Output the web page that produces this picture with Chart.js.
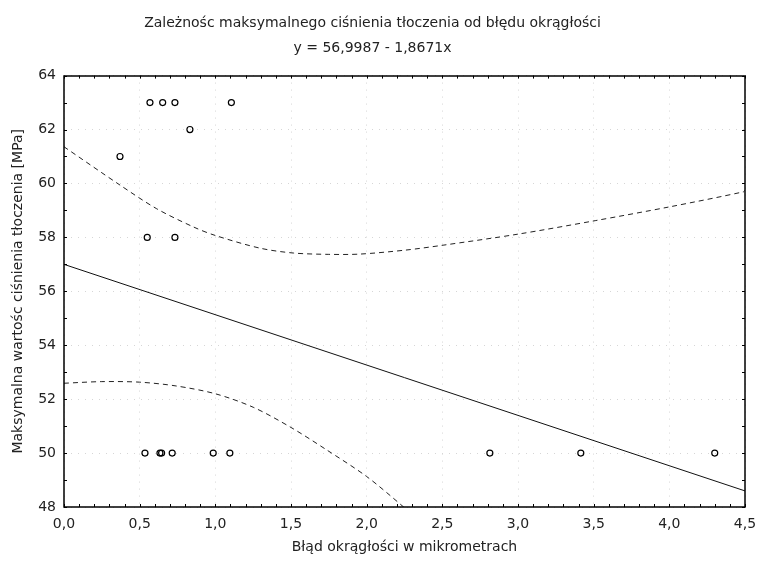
<!DOCTYPE html>
<html lang="pl">
<head>
  <meta charset="UTF-8">
  <title>Zależnośc maksymalnego ciśnienia tłoczenia od błędu okrągłości</title>
  <script src="https://cdn.jsdelivr.net/npm/chart.js"></script>
  <style>
    body { margin: 0; background: #fff; }
    #wrap { width: 759px; height: 566px; }
  </style>
</head>
<body>
  <div id="wrap"><canvas id="chart"></canvas></div>

  <script>
    // measured points
    const errX = [0.568, 0.652, 0.733, 1.106, 0.832, 0.37, 0.55, 0.733,
                  0.535, 0.634, 0.645, 0.715, 0.986, 1.096, 2.814, 3.415, 4.30];
    const pressY = [63, 63, 63, 63, 62, 61, 58, 58,
                    50, 50, 50, 50, 50, 50, 50, 50, 50];

    // fitted line y = 56,9987 - 1,8671x (ends of the plot)
    const fitX = [0, 4.5];
    const fitY = [56.9987, 48.5968];

    // confidence bands
    const upperX = [0, 0.37, 0.61, 0.854, 1.0, 1.295, 1.515, 1.75, 1.955, 2.26, 2.505, 3.0, 3.51, 4.0, 4.49, 4.5];
    const upperY = [61.36, 59.94, 59.07, 58.39, 58.07, 57.6, 57.42, 57.37, 57.38, 57.53, 57.71, 58.12, 58.62, 59.13, 59.69, 59.75];
    const lowerX = [0, 0.25, 0.5, 0.74, 1.0, 1.25, 1.5, 1.735, 2.0, 2.24, 2.3];
    const lowerY = [52.59, 52.65, 52.63, 52.49, 52.2, 51.7, 50.95, 50.12, 49.13, 48.02, 47.7];

    const xTickLabels = ['0,0', '0,5', '1,0', '1,5', '2,0', '2,5', '3,0', '3,5', '4,0', '4,5'];
    const yTickLabels = ['48', '50', '52', '54', '56', '58', '60', '62', '64'];

    const FONT = '"DejaVu Sans", sans-serif';
    const toXY = (xs, ys) => xs.map((x, i) => ({ x: x, y: ys[i] }));

    // frame and small inward ticks
    const framePlugin = {
      id: 'frame',
      afterDraw(chart) {
        const ctx = chart.ctx;
        const a = chart.chartArea;
        const xs = chart.scales.x, ys = chart.scales.y;
        ctx.save();
        ctx.strokeStyle = '#000';
        ctx.lineWidth = 1;
        ctx.beginPath();
        for (let i = 0; i <= 45; i++) {
          const px = Math.round(xs.getPixelForValue(i / 10)) + 0.5;
          ctx.moveTo(px, a.bottom); ctx.lineTo(px, a.bottom - 3);
          ctx.moveTo(px, a.top); ctx.lineTo(px, a.top + 3);
        }
        for (let v = 48; v <= 64; v++) {
          const py = Math.round(ys.getPixelForValue(v)) + 0.5;
          ctx.moveTo(a.left, py); ctx.lineTo(a.left + 3, py);
          ctx.moveTo(a.right, py); ctx.lineTo(a.right - 3, py);
        }
        ctx.stroke();
        ctx.lineWidth = 1.5;
        ctx.strokeRect(Math.round(a.left), Math.round(a.top), Math.round(a.right - a.left), Math.round(a.bottom - a.top));
        ctx.restore();
      }
    };

    const ctx = document.getElementById('chart').getContext('2d');
    new Chart(ctx, {
      type: 'scatter',
      data: {
        datasets: [
          {
            label: 'pomiary',
            data: toXY(errX, pressY),
            pointStyle: 'circle',
            pointRadius: 3,
            pointBorderWidth: 1.2,
            borderColor: '#000',
            backgroundColor: 'rgba(0,0,0,0)'
          },
          {
            type: 'line',
            label: 'regresja',
            data: toXY(fitX, fitY),
            borderColor: '#111',
            borderWidth: 1,
            pointRadius: 0,
            fill: false
          },
          {
            type: 'line',
            label: 'górna granica',
            data: toXY(upperX, upperY),
            borderColor: '#222',
            borderWidth: 1,
            borderDash: [5, 4],
            pointRadius: 0,
            tension: 0.3,
            fill: false
          },
          {
            type: 'line',
            label: 'dolna granica',
            data: toXY(lowerX, lowerY),
            borderColor: '#222',
            borderWidth: 1,
            borderDash: [5, 4],
            pointRadius: 0,
            tension: 0.3,
            fill: false
          }
        ]
      },
      options: {
        responsive: true,
        maintainAspectRatio: false,
        animation: false,
        layout: { padding: { left: 0, right: 14, top: 0, bottom: 0 } },
        plugins: {
          legend: { display: false },
          tooltip: { enabled: false },
          title: {
            display: true,
            text: 'Zależnośc maksymalnego ciśnienia tłoczenia od błędu okrągłości',
            color: '#222',
            font: { family: FONT, size: 14, weight: 'normal' },
            padding: { top: 15, bottom: 8 }
          },
          subtitle: {
            display: true,
            text: 'y = 56,9987 - 1,8671x',
            color: '#222',
            font: { family: FONT, size: 14, weight: 'normal' },
            padding: { top: 0, bottom: 19 }
          }
        },
        scales: {
          x: {
            type: 'linear',
            min: 0,
            max: 4.5,
            afterFit: s => { s.height = 59; s.paddingLeft = 0; s.paddingRight = 0; },
            title: {
              display: true,
              text: 'Błąd okrągłości w mikrometrach',
              color: '#222',
              font: { family: FONT, size: 14 },
              padding: { top: 0, bottom: 10 }
            },
            ticks: {
              stepSize: 0.5,
              padding: 9,
              color: '#222',
              font: { family: FONT, size: 14 },
              callback: (v, i) => xTickLabels[i]
            },
            grid: { color: '#d6d6d6', drawTicks: false },
            border: { display: false, dash: [1, 6] }
          },
          y: {
            type: 'linear',
            min: 48,
            max: 64,
            afterFit: s => { s.width = 64; s.paddingTop = 0; s.paddingBottom = 0; },
            title: {
              display: true,
              text: 'Maksymalna wartośc ciśnienia tłoczenia [MPa]',
              color: '#222',
              font: { family: FONT, size: 14 },
              padding: { top: 10, bottom: 0 }
            },
            ticks: {
              stepSize: 2,
              padding: 8,
              color: '#222',
              font: { family: FONT, size: 14 },
              callback: (v, i) => yTickLabels[i]
            },
            grid: { color: '#d6d6d6', drawTicks: false },
            border: { display: false, dash: [1, 6] }
          }
        }
      },
      plugins: [framePlugin]
    });
  </script>
</body>
</html>
